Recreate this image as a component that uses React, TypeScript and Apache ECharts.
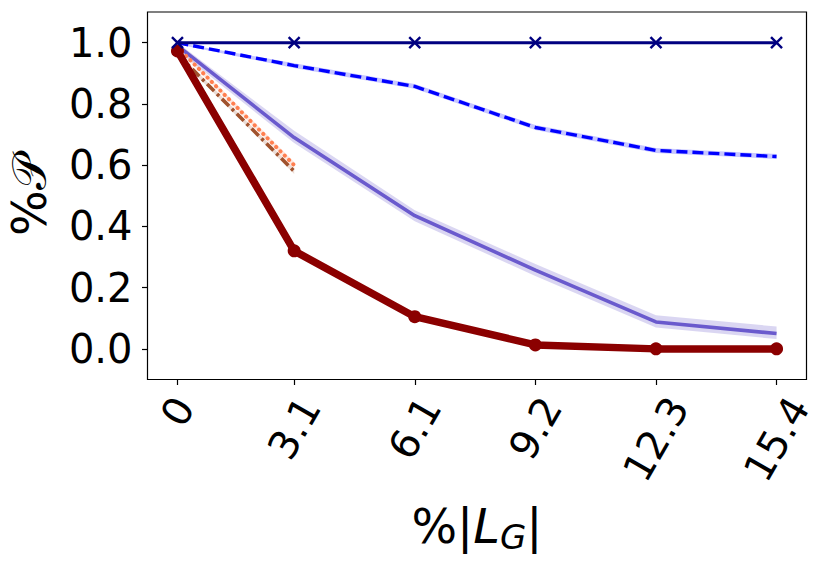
import React, { useEffect, useRef } from "react";
import * as echarts from "echarts";

// ---- data ----
const xValues = [0, 3.0, 6.1, 9.2, 12.3, 15.4];
const xTickLabels = ["0", "3.1", "6.1", "9.2", "12.3", "15.4"];
const yTicks = [0, 0.2, 0.4, 0.6, 0.8, 1.0];
const yTickLabels = ["0.0", "0.2", "0.4", "0.6", "0.8", "1.0"];

const navyVals = [1.0, 1.0, 1.0, 1.0, 1.0, 1.0];
const blueVals = [1.0, 0.925, 0.857, 0.723, 0.648, 0.628];
const blueLow = [0.995, 0.917, 0.849, 0.715, 0.64, 0.62];
const blueHigh = [1.0, 0.933, 0.865, 0.731, 0.656, 0.636];
const slateVals = [0.99, 0.69, 0.435, 0.257, 0.088, 0.05];
const slateLow = [0.975, 0.672, 0.417, 0.238, 0.07, 0.032];
const slateHigh = [1.0, 0.712, 0.453, 0.277, 0.11, 0.073];
const redVals = [0.973, 0.32, 0.105, 0.013, 0.0, 0.0];
const coralVals = [0.985, 0.6];
const coralLow = [0.978, 0.59];
const coralHigh = [0.992, 0.61];
const siennaVals = [0.962, 0.58];
const siennaLow = [0.955, 0.571];
const siennaHigh = [0.969, 0.589];

const TICK_FONT = 40;
const FONT = '"DejaVu Sans", sans-serif';

function pairs(xs: number[], ys: number[]) {
  return ys.map((y, i) => [xs[i], y]);
}

function measure(text: string, size: number) {
  const c = document.createElement("canvas").getContext("2d");
  if (!c) return text.length * size * 0.6;
  c.font = `${size}px ${FONT}`;
  return c.measureText(text).width;
}

function band(name: string, low: number[], high: number[], color: string) {
  const rows = low.map((l, i) => [xValues[i], l, high[i]]);
  return {
    type: "custom",
    name: name + "-band",
    silent: true,
    z: 1,
    data: rows,
    encode: { x: 0, y: [1, 2] },
    renderItem: (params: any, api: any) => {
      if (params.dataIndex !== 0) return null;
      const top = rows.map((r) => api.coord([r[0], r[2]]));
      const bot = rows.map((r) => api.coord([r[0], r[1]])).reverse();
      return {
        type: "polygon",
        shape: { points: top.concat(bot) },
        style: { fill: color, stroke: "none" },
      };
    },
  };
}

export default function App() {
  const ref = useRef<HTMLDivElement>(null);
  useEffect(() => {
    if (!ref.current) return;
    const chart = echarts.init(ref.current, undefined, { renderer: "svg" });
    const XMIN = -0.77;
    const XMAX = 16.17;

    const labelAxes = xTickLabels.map((lab, i) => {
      const L = measure(lab, TICK_FONT);
      return {
        type: "value",
        gridIndex: 0,
        position: "bottom",
        min: XMIN,
        max: XMAX,
        axisLine: { show: false, onZero: false },
        axisTick: { show: false },
        splitLine: { show: false },
        axisLabel: {
          show: true,
          customValues: [xValues[i]],
          formatter: () => lab,
          rotate: 60,
          align: "center",
          verticalAlign: "middle",
          margin: 21 + 0.433 * L,
          fontSize: TICK_FONT,
          fontFamily: FONT,
          color: "#000",
        },
      };
    });

    const option: any = {
      animation: false,
      backgroundColor: "#fff",
      grid: {
        left: 147.5,
        right: 24.5,
        top: 12,
        bottom: 185.5,
        containLabel: false,
        outerBoundsMode: "none",
        show: true,
        borderColor: "#000",
        borderWidth: 1.2,
        backgroundColor: "transparent",
      },
      xAxis: [
        {
          type: "value",
          gridIndex: 0,
          position: "bottom",
          min: XMIN,
          max: XMAX,
          axisLine: { show: false, onZero: false },
          axisTick: {
            show: true,
            customValues: xValues,
            length: 5.5,
            inside: false,
            lineStyle: { color: "#000", width: 1.2 },
          },
          axisLabel: { show: false },
          splitLine: { show: false },
          name: "%|{i|L}{s|G}|",
          nameLocation: "middle",
          nameGap: 118,
          nameTextStyle: {
            fontSize: 48,
            fontFamily: FONT,
            color: "#000",
            rich: {
              i: { fontSize: 48, fontStyle: "italic", fontFamily: FONT, color: "#000" },
              s: {
                fontSize: 34,
                fontStyle: "italic",
                fontFamily: FONT,
                color: "#000",
                padding: [22, 0, 0, 0],
              },
            },
          },
        },
        ...labelAxes,
      ],
      yAxis: {
        type: "value",
        min: -0.1,
        max: 1.1,
        axisLine: { show: false, onZero: false },
        axisTick: {
          show: true,
          customValues: yTicks,
          length: 5.5,
          inside: false,
          lineStyle: { color: "#000", width: 1.2 },
        },
        axisLabel: {
          customValues: yTicks,
          formatter: (v: number) => {
            const k = yTicks.findIndex((t) => Math.abs(t - v) < 1e-6);
            return k >= 0 ? yTickLabels[k] : "";
          },
          margin: 15,
          fontSize: TICK_FONT,
          fontFamily: FONT,
          color: "#000",
        },
        splitLine: { show: false },
        name: "%𝒫",
        nameLocation: "middle",
        nameRotate: 90,
        nameGap: 95,
        nameTextStyle: { fontSize: 48, fontFamily: FONT, color: "#000" },
      },
      series: [
        band("slate", slateLow, slateHigh, "rgba(106,90,205,0.25)"),
        band("blue", blueLow, blueHigh, "rgba(0,0,255,0.22)"),
        band("coral", coralLow, coralHigh, "rgba(255,127,80,0.2)"),
        band("sienna", siennaLow, siennaHigh, "rgba(160,82,45,0.2)"),
        {
          type: "line",
          name: "slate",
          data: pairs(xValues, slateVals),
          symbol: "none",
          lineStyle: { color: "#6a5acd", width: 3.6 },
          z: 3,
        },
        {
          type: "line",
          name: "blue",
          data: pairs(xValues, blueVals),
          symbol: "none",
          lineStyle: { color: "#0000ff", width: 3.4, type: [11, 5] },
          z: 3,
        },
        {
          type: "line",
          name: "sienna",
          data: pairs(xValues, siennaVals),
          symbol: "none",
          lineStyle: { color: "#a0522d", width: 3.6, type: [10, 4, 3, 4] },
          z: 3,
        },
        {
          type: "line",
          name: "coral",
          data: pairs(xValues, coralVals),
          symbol: "none",
          lineStyle: { color: "#ff7f50", width: 4, type: [0.1, 6], cap: "round" },
          z: 3,
        },
        {
          type: "line",
          name: "red",
          data: pairs(xValues, redVals),
          symbol: "circle",
          symbolSize: 13,
          itemStyle: { color: "#8b0000" },
          lineStyle: { color: "#8b0000", width: 7.5 },
          z: 4,
        },
        {
          type: "line",
          name: "navy",
          data: pairs(xValues, navyVals),
          symbol: "path://M0,0L10,10M0,10L10,0",
          symbolSize: 11,
          itemStyle: { color: "transparent", borderColor: "#000080", borderWidth: 2.4 },
          lineStyle: { color: "#000080", width: 3 },
          z: 5,
        },
      ],
    };
    chart.setOption(option);
    return () => chart.dispose();
  }, []);
  return (
    <div
      ref={ref}
      style={{ position: "fixed", left: 0, top: 0, width: 831, height: 565, background: "#fff" }}
    />
  );
}
